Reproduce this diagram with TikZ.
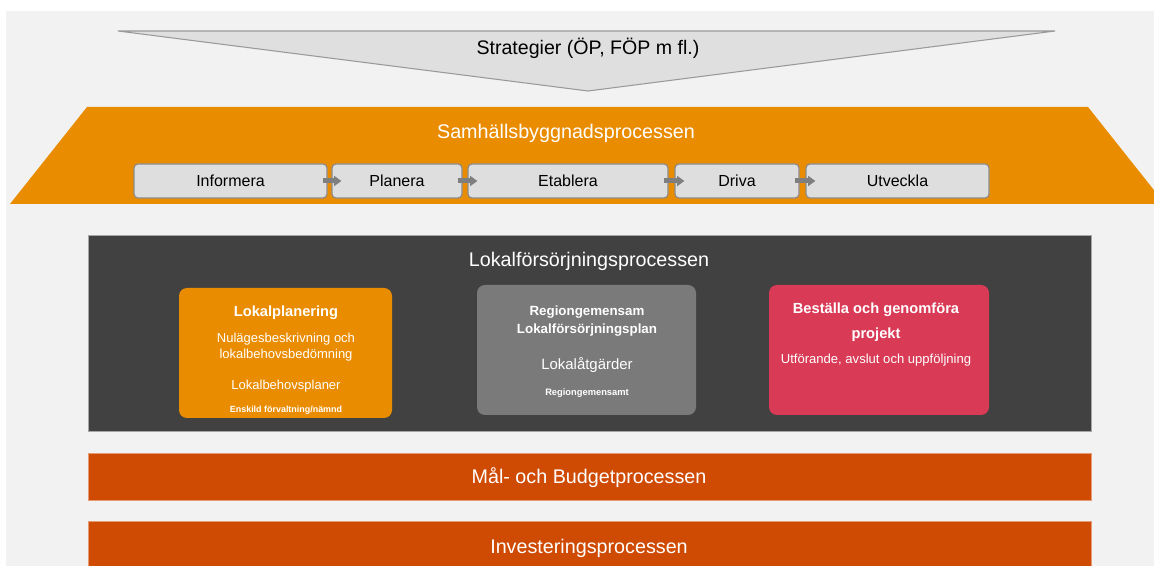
\documentclass[tikz,border=0pt]{standalone}
\usepackage{fontspec}
\setmainfont{Liberation Sans}
\usetikzlibrary{arrows.meta}
\definecolor{bgc}{HTML}{F2F2F2}
\definecolor{trig}{HTML}{DFDFDF}
\definecolor{trigline}{HTML}{9A9A9A}
\definecolor{orng}{HTML}{EA8C00}
\definecolor{pbox}{HTML}{DEDEDE}
\definecolor{pline}{HTML}{8C8C8C}
\definecolor{arrg}{HTML}{7F7F7F}
\definecolor{darkp}{HTML}{414141}
\definecolor{midg}{HTML}{7A7A7A}
\definecolor{redb}{HTML}{D93A56}
\definecolor{rust}{HTML}{CF4A02}
\tikzset{
  procbox/.style={draw=pline, line width=0.9pt, fill=pbox, rounded corners=3pt, inner sep=0pt,
    minimum height=25.5pt, font=\fontsize{12}{14}\selectfont},
  card/.style={rounded corners=6pt, inner sep=0pt, minimum height=97.5pt},
  cardtxt/.style={text=white, inner sep=0pt, align=center},
  flowarrow/.style={draw=arrg, line width=3.75pt, -{Triangle[length=5.5pt,width=7.5pt]},
    shorten <=-3.75pt, shorten >=-7.5pt},
  bar/.style={fill=rust, draw=rust!55!white, line width=0.4pt, inner sep=0pt},
  bartxt/.style={text=white, font=\fontsize{14.8}{17}\selectfont}
}
\begin{document}
\begin{tikzpicture}[x=0.75pt,y=-0.75pt]
\useasboundingbox (0,0) rectangle (1154,566);
\fill[white] (0,0) rectangle (1154,566);
\fill[bgc] (6,11) rectangle (1154,566);
% Strategy triangle
\draw[trigline, fill=trig, line width=0.8pt] (118,31) -- (1055,31) -- (588,91) -- cycle;
\node[font=\fontsize{14.7}{17}\selectfont] (strat) at (588,48.5) {Strategier (ÖP, FÖP m fl.)};
% Orange trapezoid
\fill[orng] (87,107) -- (1088,107) -- (1165,204) -- (10,204) -- cycle;
\node[text=white, font=\fontsize{14.8}{17}\selectfont] (samh) at (566,133) {Samhällsbyggnadsprocessen};
% process boxes
\node[procbox, minimum width=144.75pt] (inf) at (230.5,181) {Informera};
\node[procbox, minimum width=97.5pt]   (pla) at (397,181)   {Planera};
\node[procbox, minimum width=150pt]    (eta) at (568,181)   {Etablera};
\node[procbox, minimum width=93pt]     (dri) at (737,181)   {Driva};
\node[procbox, minimum width=137.25pt] (utv) at (897.5,181) {Utveckla};
\draw[flowarrow] (inf.east) -- (pla.west);
\draw[flowarrow] (pla.east) -- (eta.west);
\draw[flowarrow] (eta.east) -- (dri.west);
\draw[flowarrow] (dri.east) -- (utv.west);
% Dark panel
\node[fill=darkp, draw=gray!70, line width=0.5pt, inner sep=0pt, minimum width=752.25pt, minimum height=147pt] (lok) at (589.5,333) {};
\node[text=white, font=\fontsize{14.8}{17}\selectfont] (lokt) at (589,261) {Lokalförsörjningsprocessen};
% Card 1
\node[card, fill=orng, minimum width=159.75pt] (c1) at (285.5,353) {};
\node[cardtxt, font=\bfseries\fontsize{11}{13}\selectfont] (c1a) at (286,312.5) {Lokalplanering};
\node[cardtxt, font=\fontsize{9.75}{12}\selectfont] (c1b) at (286,347.5) {Nulägesbeskrivning och\\lokalbehovsbedömning};
\node[cardtxt, font=\fontsize{9.75}{12}\selectfont] (c1c) at (286,386.5) {Lokalbehovsplaner};
\node[cardtxt, font=\bfseries\fontsize{6.7}{8}\selectfont] (c1d) at (286,410) {Enskild förvaltning/nämnd};
% Card 2
\node[card, fill=midg, minimum width=164.25pt] (c2) at (586.5,350) {};
\node[cardtxt, font=\bfseries\fontsize{10}{13.5}\selectfont] (c2a) at (587,321.5) {Regiongemensam\\Lokalförsörjningsplan};
\node[cardtxt, font=\fontsize{11.2}{13}\selectfont] (c2b) at (587,365.5) {Lokalåtgärder};
\node[cardtxt, font=\bfseries\fontsize{7}{8}\selectfont] (c2c) at (587,393) {Regiongemensamt};
% Card 3
\node[card, fill=redb, minimum width=165pt] (c3) at (879,350) {};
\node[cardtxt, font=\bfseries\fontsize{11}{13}\selectfont] (c3a) at (876,309.5) {Beställa och genomföra};
\node[cardtxt, font=\bfseries\fontsize{11}{13}\selectfont] (c3b) at (876,334.5) {projekt};
\node[cardtxt, font=\fontsize{9.8}{12}\selectfont] (c3c) at (876,360.5) {Utförande, avslut och uppföljning};
% Bars
\node[bar, minimum width=752.25pt, minimum height=35.25pt] (mal) at (589.5,476.5) {};
\node[bartxt] (malt) at (589,478) {Mål- och Budgetprocessen};
\node[bar, minimum width=752.25pt, minimum height=42pt] (inv) at (589.5,549) {};
\node[bartxt] (invt) at (589,548) {Investeringsprocessen};
\end{tikzpicture}
\end{document}
